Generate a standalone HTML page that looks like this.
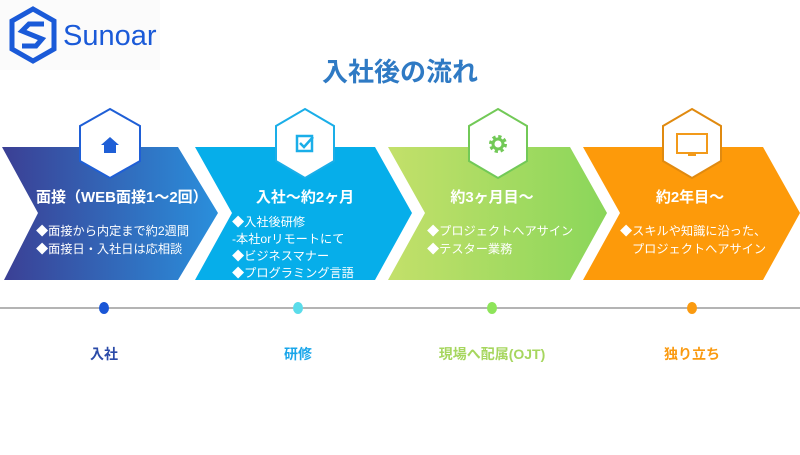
<!DOCTYPE html>
<html><head><meta charset="utf-8"><style>
body{margin:0;width:800px;height:450px;background:#fff;overflow:hidden;font-family:"Liberation Sans","Noto Sans CJK JP",sans-serif}
</style></head><body>
<svg width="800" height="450" viewBox="0 0 800 450" xmlns="http://www.w3.org/2000/svg" font-family="Liberation Sans, Noto Sans CJK JP, sans-serif">
<defs>
<linearGradient id="g1" x1="0" x2="1" y1="0" y2="0"><stop offset="0" stop-color="#3b3f94"/><stop offset="1" stop-color="#2a8fdc"/></linearGradient>
<linearGradient id="g3" x1="0" x2="1"><stop offset="0" stop-color="#c3e06a"/><stop offset="1" stop-color="#8ad65a"/></linearGradient>
</defs>
<rect x="0" y="0" width="160" height="70" fill="#fbfbfb"/>
<g fill="none" stroke="#1a5ad8" stroke-width="5">
<polygon points="33,9 54,21 54,49 33,61 12,49 12,21"/>
</g>
<path d="M44,24 L29,24 L22,31 L42,39 L36,46 L22,46" fill="none" stroke="#1a5ad8" stroke-width="5"/>
<text x="63" y="45" font-size="29" fill="#1a5ad8">Sunoar</text>
<text x="400" y="81" text-anchor="middle" font-size="26" font-weight="bold" fill="#2f7ac4">入社後の流れ</text>

<polygon points="2,147 178,147 218,213 178,280 4,280 38,213" fill="url(#g1)"/>
<polygon points="195,147 375,147 412,213 375,280 195,280 232,213" fill="#06aeea"/>
<polygon points="388,147 570,147 607,213 570,280 388,280 425,213" fill="url(#g3)"/>
<polygon points="583,147 763,147 800,213 763,280 583,280 620,213" fill="#fd9a0a"/>

<g stroke-width="2" fill="#fff">
<polygon points="110,109 140,126 140,161 110,178 80,161 80,126" stroke="#1f5fd6"/>
<polygon points="305,109 334,126 334,161 305,178 276,161 276,126" stroke="#1aaee8"/>
<polygon points="498,109 527,126 527,161 498,178 469,161 469,126" stroke="#72c957"/>
<polygon points="692,109 721,126 721,161 692,178 663,161 663,126" stroke="#e08a10"/>
</g>
<path d="M101,145 L110,137 L119,145 L116,145 L116,153 L104,153 L104,145 Z" fill="#1f5fd6"/>
<rect x="297" y="136" width="15" height="15" fill="none" stroke="#1aaee8" stroke-width="2.5"/>
<path d="M300,143 L304,147 L313,137" fill="none" stroke="#1aaee8" stroke-width="2.5"/>
<circle cx="498" cy="144" r="7" fill="none" stroke="#72c957" stroke-width="4" stroke-dasharray="3 2.5"/>
<circle cx="498" cy="144" r="5" fill="none" stroke="#72c957" stroke-width="3"/>
<rect x="677" y="134" width="30" height="19" fill="none" stroke="#f29a1a" stroke-width="2"/>
<rect x="688" y="153" width="8" height="3" fill="#f29a1a"/>

<g fill="#fff" font-weight="bold" font-size="15">
<text x="36" y="202">面接（WEB面接1〜2回）</text>
<text x="305" y="202" text-anchor="middle">入社〜約2ヶ月</text>
<text x="492" y="202" text-anchor="middle">約3ヶ月目〜</text>
<text x="690" y="202" text-anchor="middle">約2年目〜</text>
</g>
<g fill="#fff" font-size="12.2">
<text x="36" y="235">◆面接から内定まで約2週間</text>
<text x="36" y="253">◆面接日・入社日は応相談</text>
<text x="232" y="226">◆入社後研修</text>
<text x="232" y="243"> -本社orリモートにて</text>
<text x="232" y="260">◆ビジネスマナー</text>
<text x="232" y="277">◆プログラミング言語</text>
<text x="427" y="235">◆プロジェクトへアサイン</text>
<text x="427" y="253">◆テスター業務</text>
<text x="620" y="235">◆スキルや知識に沿った、</text>
<text x="632" y="253">プロジェクトへアサイン</text>
</g>
<line x1="0" y1="308" x2="800" y2="308" stroke="#888" stroke-width="1.2"/>
<ellipse cx="104" cy="308" rx="5" ry="6" fill="#1a56d6"/>
<ellipse cx="298" cy="308" rx="5" ry="6" fill="#5adcea"/>
<ellipse cx="492" cy="308" rx="5" ry="6" fill="#8ee45a"/>
<ellipse cx="692" cy="308" rx="5" ry="6" fill="#fa9a10"/>
<g font-size="14" font-weight="bold" text-anchor="middle">
<text x="104" y="359" fill="#2a4aa8">入社</text>
<text x="298" y="359" fill="#19a6ea">研修</text>
<text x="492" y="359" fill="#a6d65e">現場へ配属(OJT)</text>
<text x="692" y="359" fill="#fa9a10">独り立ち</text>
</g>
</svg>
</body></html>
